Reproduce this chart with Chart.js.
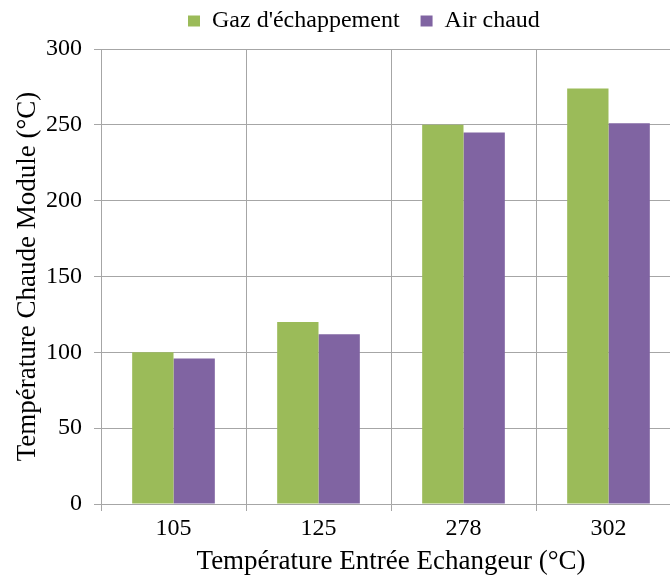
<!DOCTYPE html>
<html>
<head>
<meta charset="utf-8">
<title>Température Chaude Module</title>
<script src="https://cdn.jsdelivr.net/npm/chart.js@4.4.0/dist/chart.umd.min.js"></script>
<style>
  html, body { margin: 0; padding: 0; background: #fff; overflow: hidden; }
  #moduleChart { display: block; }
</style>
</head>
<body>
<canvas id="moduleChart" width="690" height="575"></canvas>
<script>
// Inlet temperatures of the exchanger (x categories)
const inletTemps = ["105", "125", "278", "302"];

// Hot-side module temperature for each heat source (°C)
const exhaustGas = [100, 120, 250, 274];
const hotAir = [96, 112, 245, 251];

// Y axis range
const yMin = 0;
const yMax = 300;
const yStep = 50;

const serif = "'Liberation Serif', 'Times New Roman', serif";
const gridGrey = "#a6a6a6";

// Legend sits left of centre above the plot, so nudge it after layout
const legendPlacement = {
    id: "legendPlacement",
    afterLayout(chart) {
        const legend = chart.legend;
        const pad = legend.options.labels.padding;
        legend.left = 188 - pad;
        legend.top = 21 - pad - 12;
    },
};

const ctx = document.getElementById("moduleChart");

new Chart(ctx, {
    type: "bar",
    data: {
        labels: inletTemps,
        datasets: [
            {
                label: "Gaz d'échappement",
                data: exhaustGas,
                backgroundColor: "#9bbb59",
                borderWidth: 0,
            },
            {
                label: "Air chaud",
                data: hotAir,
                backgroundColor: "#8064a2",
                borderWidth: 0,
            },
        ],
    },
    options: {
        responsive: false,
        animation: false,
        devicePixelRatio: 1,
        layout: { padding: { left: 0, right: 9, top: 0, bottom: 0 } },
        datasets: {
            bar: { categoryPercentage: 0.57, barPercentage: 1.0 },
        },
        plugins: {
            legend: {
                position: "top",
                align: "start",
                maxHeight: 49,
                labels: {
                    boxWidth: 12,
                    boxHeight: 11,
                    padding: 21,
                    color: "#000",
                    font: { family: serif, size: 24 },
                },
            },
            tooltip: { enabled: false },
        },
        scales: {
            x: {
                // fixed axis band so the plot bottom lands at y = 504
                afterFit(scale) {
                    scale.height = 71;
                },
                grid: {
                    color: gridGrey,
                    offset: true,
                    tickLength: 7,
                },
                border: { color: gridGrey },
                ticks: {
                    color: "#000",
                    padding: 3,
                    font: { family: serif, size: 24 },
                },
                title: {
                    display: true,
                    text: "Température Entrée Echangeur (°C)",
                    color: "#000",
                    font: { family: serif, size: 27, lineHeight: 1.0 },
                    padding: { top: 0, bottom: 0 },
                },
            },
            y: {
                min: yMin,
                max: yMax,
                // fixed axis band so the plot starts at x = 101
                afterFit(scale) {
                    scale.width = 101;
                },
                grid: {
                    color: gridGrey,
                    tickLength: 7,
                },
                border: { color: gridGrey },
                ticks: {
                    stepSize: yStep,
                    color: "#000",
                    padding: 12,
                    font: { family: serif, size: 24 },
                },
                title: {
                    display: true,
                    text: "Température Chaude Module (°C)",
                    color: "#000",
                    font: { family: serif, size: 27 },
                    padding: { top: 12, bottom: 2 },
                },
            },
        },
    },
    plugins: [legendPlacement],
});
</script>
</body>
</html>
